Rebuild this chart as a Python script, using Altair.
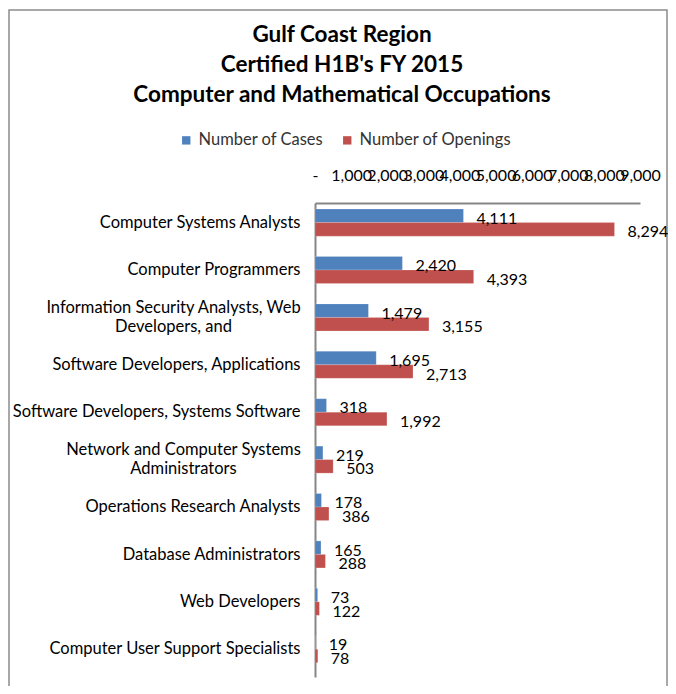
import altair as alt
import pandas as pd

occupations = [
    "Computer Systems Analysts",
    "Computer Programmers",
    "Information Security Analysts, Web|Developers, and",
    "Software Developers, Applications",
    "Software Developers, Systems Software",
    "Network and Computer Systems|Administrators",
    "Operations Research Analysts",
    "Database Administrators",
    "Web Developers",
    "Computer User Support Specialists",
]
cases = [4111, 2420, 1479, 1695, 318, 219, 178, 165, 73, 19]
openings = [8294, 4393, 3155, 2713, 1992, 503, 386, 288, 122, 78]
series = ["Number of Cases", "Number of Openings"]
colors = ["#4F81BD", "#C0504D"]
x_ticks = [0, 1000, 2000, 3000, 4000, 5000, 6000, 7000, 8000, 9000]
title_lines = [
    "Gulf Coast Region",
    "Certified H1B's FY 2015",
    "Computer and Mathematical Occupations",
]

rows = []
for occ, c, o in zip(occupations, cases, openings):
    rows.append({"occupation": occ, "series": series[0], "value": c})
    rows.append({"occupation": occ, "series": series[1], "value": o})
df = pd.DataFrame(rows)

FONT = "Lato"
multi_test = "indexof(datum.value, '|') >= 0"

x = alt.X(
    "value:Q",
    title=None,
    scale=alt.Scale(domain=[0, 9000], nice=False),
    axis=alt.Axis(
        orient="top",
        values=x_ticks,
        labelExpr="datum.value == 0 ? '-' : format(datum.value, ',')",
        labelOverlap=False,
        labelFlush=False,
        labelBound=False,
        ticks=False,
        grid=False,
        labelPadding=20,
        labelFontSize=16,
        labelFont=FONT,
        labelColor="#000000",
        domainColor="#868686",
        domainWidth=2,
    ),
)
y = alt.Y(
    "occupation:N",
    sort=occupations,
    title=None,
    scale=alt.Scale(paddingInner=0, paddingOuter=0),
    axis=alt.Axis(
        labelExpr="split(datum.label, '|')",
        ticks=False,
        grid=False,
        labelAlign={
            "condition": {"test": multi_test, "value": "center"},
            "value": "right",
        },
        labelPadding={
            "condition": [
                {"test": "indexof(datum.value, 'Information') >= 0", "value": 142},
                {"test": "indexof(datum.value, 'Network') >= 0", "value": 132},
            ],
            "value": 15,
        },
        labelOffset={
            "condition": {"test": multi_test, "value": -14},
            "value": -4,
        },
        labelBaseline="middle",
        labelFontSize=16.5,
        labelFont=FONT,
        labelColor="#000000",
        labelLineHeight=19,
        labelLimit=320,
        domainColor="#868686",
        domainWidth=2,
    ),
)
yoff = alt.YOffset(
    "series:N",
    sort=series,
    scale=alt.Scale(paddingInner=0, paddingOuter=0.755, align=0.3),
)
color = alt.Color(
    "series:N",
    sort=series,
    scale=alt.Scale(domain=series, range=colors),
    legend=alt.Legend(
        title=None,
        orient="none",
        direction="horizontal",
        legendX=-137,
        legendY=-71,
        symbolType="square",
        symbolSize=70,
        symbolStrokeWidth=0,
        labelFontSize=16.5,
        labelFont=FONT,
        labelColor="#333333",
        columnPadding=15,
        symbolOffset=0,
        labelOffset=4,
    ),
)

base = alt.Chart(df)
bars = base.mark_bar(stroke="#ffffff", strokeOpacity=0.35, strokeWidth=0.5).encode(
    x=x, y=y, yOffset=yoff, color=color
)
labels = base.mark_text(
    align="left", baseline="middle", dx=13, dy=3, fontSize=16, font=FONT, color="#000000"
).encode(
    x=x,
    y=y,
    yOffset=yoff,
    text=alt.Text("value:Q", format=","),
)

one = alt.InlineData(values=[{"k": 1}])
title = alt.Chart(one).mark_text(
    text=title_lines,
    lineHeight=30,
    fontSize=22.5,
    fontWeight="bold",
    font=FONT,
    align="center",
    baseline="alphabetic",
    color="#000000",
).encode(x=alt.value(27), y=alt.value(-161))
border = alt.Chart(one).mark_rect(
    fillOpacity=0, stroke="#8c8c8c", strokeWidth=1.5
).encode(x=alt.value(-306), x2=alt.value(352), y=alt.value(-193), y2=alt.value(520))

chart = (
    alt.layer(border, bars, labels, title)
    .properties(
        width=325,
        height=474,
        autosize=alt.AutoSizeParams(type="none"),
        padding={"left": 307, "top": 195, "right": 28, "bottom": 9},
    )
    .configure_view(stroke=None)
)

chart.save("out.html", embed_options={"renderer": "svg", "actions": False})
